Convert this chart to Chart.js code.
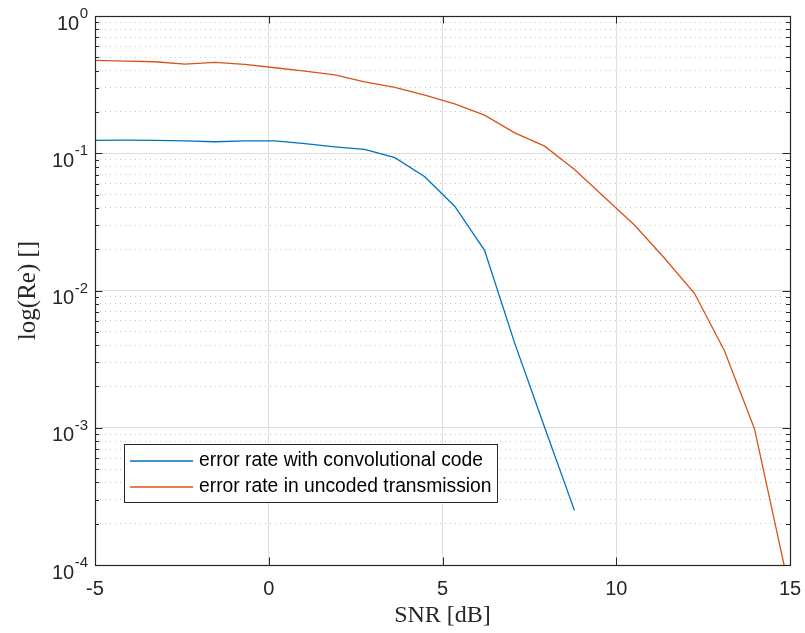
<!DOCTYPE html>
<html><head><meta charset="utf-8">
<script src="https://cdn.jsdelivr.net/npm/chart.js@4/dist/chart.umd.min.js"></script>
<style>html,body{margin:0;padding:0;background:#fff}#wrap{width:805px;height:633px;position:relative}canvas{display:block}</style>
</head><body><div id="wrap"><canvas id="c" width="805" height="633"></canvas></div>
<script>
// ---- data ----
const snrDb = [-5, -4.14, -3.28, -2.41, -1.55, -0.69, 0.18, 1.04, 1.9, 2.76, 3.63, 4.49, 5.35, 6.21, 7.08, 7.94, 8.8, 9.66, 10.53, 11.39, 12.25, 13.11, 13.98, 14.84];
const codedErr = [0.124, 0.1246, 0.1242, 0.1229, 0.1213, 0.1231, 0.1231, 0.1175, 0.1113, 0.1066, 0.0929, 0.0675, 0.0411, 0.0196, 0.00412, 0.001005, 0.000249];
const uncodedErr = [0.4753, 0.4697, 0.4642, 0.4466, 0.4595, 0.4443, 0.4196, 0.3971, 0.3731, 0.3317, 0.3019, 0.2653, 0.2293, 0.1896, 0.1409, 0.1126, 0.0762, 0.0478, 0.0299, 0.01717, 0.00954, 0.00366, 0.00098, 0.000097];
const seriesLabels = ['error rate with convolutional code', 'error rate in uncoded transmission'];
const seriesColors = ['#0072BD', '#D95319'];
const xTickValues = [-5, 0, 5, 10, 15];
const yDecadeTicks = [1e-4, 1e-3, 1e-2, 1e-1, 1];
const yMinorMultipliers = [2, 3, 4, 5, 6, 7, 8, 9];
const xTitle = 'SNR [dB]';
const yTitle = 'log(Re) []';

const yMinorTicks = [];
yDecadeTicks.slice(0, -1).forEach(d => yMinorMultipliers.forEach(m => yMinorTicks.push(m * d)));

const AX = '#262626';
const SANS = '"Liberation Sans", Arial, sans-serif';
const SERIF = '"Liberation Serif", "Times New Roman", serif';

const framePlugin = {
  id: 'matlabFrame',
  afterDraw(chart) {
    const ctx = chart.ctx;
    const {left, right, top, bottom} = chart.chartArea;
    const xs = chart.scales.x, ys = chart.scales.y, ys2 = chart.scales.y2;
    ctx.save();
    ctx.strokeStyle = AX;
    ctx.lineWidth = 1;
    ctx.beginPath();
    xs.ticks.forEach(t => {
      const p = Math.round(xs.getPixelForValue(t.value)) + 0.5;
      ctx.moveTo(p, bottom); ctx.lineTo(p, bottom - 7.5);
      ctx.moveTo(p, top); ctx.lineTo(p, top + 7.5);
    });
    ys.ticks.forEach(t => {
      const p = Math.round(ys.getPixelForValue(t.value)) + 0.5;
      ctx.moveTo(left, p); ctx.lineTo(left + 7.5, p);
      ctx.moveTo(right, p); ctx.lineTo(right - 7.5, p);
    });
    ys2.ticks.forEach(t => {
      const p = Math.round(ys2.getPixelForValue(t.value)) + 0.5;
      ctx.moveTo(left, p); ctx.lineTo(left + 4, p);
      ctx.moveTo(right, p); ctx.lineTo(right - 4, p);
    });
    ctx.stroke();
    ctx.lineWidth = 1.2;
    ctx.strokeRect(left + 0.5, top + 0.5, right - left, bottom - top);

    // y tick labels 10^n
    ctx.fillStyle = AX;
    ctx.textBaseline = 'alphabetic';
    ys.ticks.forEach(t => {
      const p = ys.getPixelForValue(t.value);
      const e = Math.round(Math.log10(t.value));
      const expStr = e === 0 ? '0' : '-' + Math.abs(e);
      ctx.font = '15px ' + SANS;
      const ew = ctx.measureText(expStr).width;
      const xr = 88;
      ctx.textAlign = 'right';
      ctx.fillText(expStr, xr, p + 2);
      ctx.font = '20px ' + SANS;
      ctx.fillText('10', xr - ew - 0.5, p + 13.5);
    });

    // legend
    const bx = 124, by = 444, bw = 373, bh = 58;
    ctx.fillStyle = '#ffffff';
    ctx.fillRect(bx, by, bw, bh);
    ctx.strokeStyle = AX;
    ctx.lineWidth = 1;
    ctx.strokeRect(bx + 0.5, by + 0.5, bw, bh);
    chart.data.datasets.forEach((ds, i) => {
      const ly = by + 17 + i * 26;
      ctx.strokeStyle = ds.borderColor;
      ctx.lineWidth = 1.3;
      ctx.beginPath();
      ctx.moveTo(130, ly); ctx.lineTo(193, ly);
      ctx.stroke();
      ctx.fillStyle = '#000';
      ctx.font = '19.3px ' + SANS;
      ctx.textAlign = 'left';
      ctx.textBaseline = 'middle';
      ctx.fillText(ds.label, 199, ly);
    });
    ctx.restore();
  }
};

const mk = (ys) => ys.map((v, i) => ({x: snrDb[i], y: v}));

new Chart(document.getElementById('c'), {
  type: 'line',
  data: {
    datasets: [
      {label: seriesLabels[0], data: mk(codedErr), borderColor: seriesColors[0], borderWidth: 1.3, pointRadius: 0, fill: false, tension: 0},
      {label: seriesLabels[1], data: mk(uncodedErr), borderColor: seriesColors[1], borderWidth: 1.3, pointRadius: 0, fill: false, tension: 0}
    ]
  },
  options: {
    responsive: false,
    animation: false,
    devicePixelRatio: 1,
    layout: {padding: {top: 16, right: 15, left: 0, bottom: 0}},
    plugins: {legend: {display: false}, tooltip: {enabled: false}},
    scales: {
      x: {
        type: 'linear', min: -5, max: 15,
        afterBuildTicks: s => { s.ticks = xTickValues.map(v => ({value: v})); },
        afterFit: s => { s.height = 68; s.paddingLeft = 0; s.paddingRight = 0; },
        grid: {color: '#dedede', lineWidth: 1, drawTicks: false},
        border: {display: false},
        ticks: {color: AX, font: {family: SANS, size: 20}, padding: 12, maxRotation: 0},
        title: {display: true, text: xTitle, color: AX, font: {family: SERIF, size: 24}, padding: {top: 0, bottom: 3}}
      },
      y: {
        type: 'logarithmic', min: 1e-4, max: 1, position: 'left',
        afterBuildTicks: s => { s.ticks = yDecadeTicks.map(v => ({value: v})); },
        afterFit: s => { s.width = 95; s.paddingTop = 0; s.paddingBottom = 0; },
        grid: {color: '#dedede', lineWidth: 1, drawTicks: false},
        border: {display: false},
        ticks: {display: false},
        title: {display: true, text: yTitle, color: AX, font: {family: SERIF, size: 25}, padding: {top: 13, bottom: 0}}
      },
      y2: {
        type: 'logarithmic', min: 1e-4, max: 1, position: 'right',
        afterBuildTicks: s => { s.ticks = yMinorTicks.map(v => ({value: v})); },
        afterFit: s => { s.width = 0; s.paddingTop = 0; s.paddingBottom = 0; },
        grid: {color: '#c4c4c4', lineWidth: 1, drawTicks: false},
        border: {display: false, dash: [1, 4]},
        ticks: {display: false}
      }
    }
  },
  plugins: [framePlugin]
});
</script>
</body></html>
